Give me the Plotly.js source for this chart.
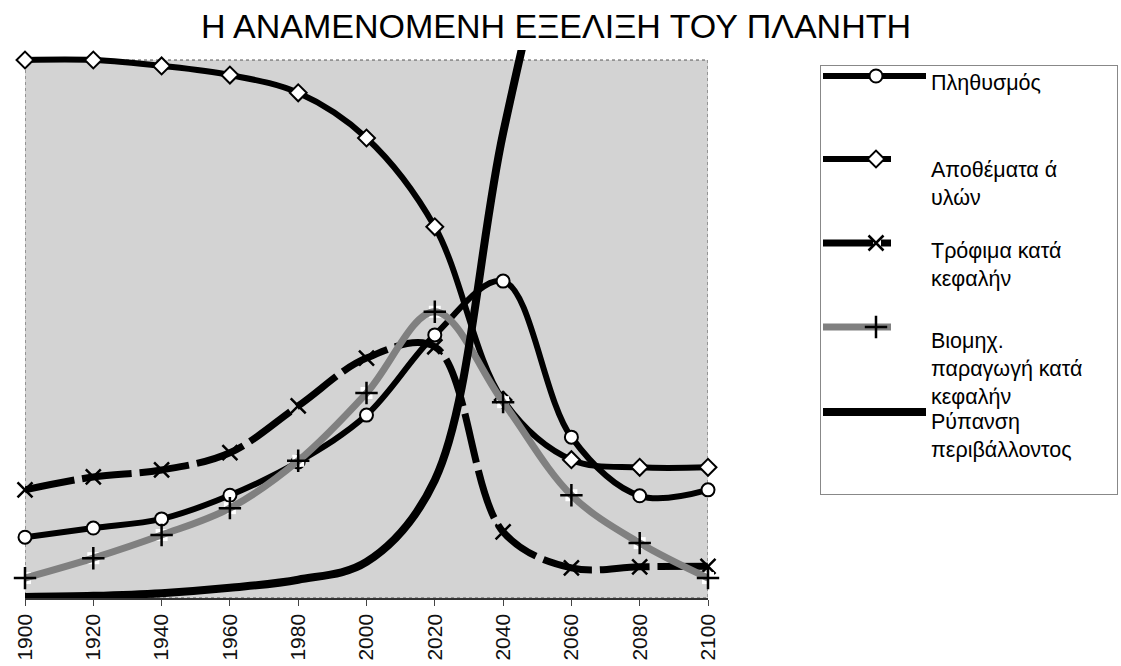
<!DOCTYPE html>
<html>
<head>
<meta charset="utf-8">
<script src="https://cdn.plot.ly/plotly-3.0.1.min.js"></script>
<style>
  body { margin: 0; background: #ffffff; }
  #chart { width: 1121px; height: 666px; }
</style>
</head>
<body>
<div id="chart"></div>
<script>
// ---- data (arbitrary index units, 100 = top of the shaded box) ----
const years = [1900, 1920, 1940, 1960, 1980, 2000, 2020, 2040, 2060, 2080, 2100];
const tickLabels = ['1900', '1920', '1940', '1960', '1980', '2000', '2020', '2040', '2060', '2080', '2100'];
const seriesNames = [
  'Πληθυσμός',
  'Αποθέματα ά<br>υλών',
  'Τρόφιμα κατά<br>κεφαλήν',
  'Βιομηχ.<br>παραγωγή κατά<br>κεφαλήν',
  'Ρύπανση<br>περιβάλλοντος'
];
const population = [11.3, 13.0, 14.7, 19.1, 25.3, 34.0, 48.9, 58.9, 29.9, 19.0, 20.1];
const resources = [100, 100, 98.9, 97.2, 93.9, 85.5, 69.0, 36.8, 25.7, 24.3, 24.3];
const foodPerCapita = [20.1, 22.5, 23.8, 27.0, 35.7, 44.6, 46.7, 12.3, 5.6, 5.8, 5.9];
const industryPerCapita = [3.7, 7.4, 11.7, 16.7, 25.5, 38.1, 53.2, 36.4, 19.1, 10.2, 3.7];
const pollution = [0.2, 0.4, 0.9, 1.9, 3.4, 6.7, 21.9, 86.4, 141, null, null];
const titleText = 'Η ΑΝΑΜΕΝΟΜΕΝΗ ΕΞΕΛΙΞΗ ΤΟΥ ΠΛΑΝΗΤΗ';

// ---- layout geometry ----
const W = 1121, H = 666;
const M = { l: 25, r: 413, t: 50, b: 68 };
const boxTop = 100;                       // top of shaded box in data units
const yMax = boxTop * (H - M.b - M.t) / (H - M.b - 60); // plot area extends a little above the box

const traces = [
  {
    x: years, y: population, name: seriesNames[0],
    mode: 'lines+markers', cliponaxis: false,
    line: { shape: 'spline', color: '#000000', width: 6 },
    marker: { symbol: 'circle', size: 13, color: '#ffffff', line: { color: '#000000', width: 2 } }
  },
  {
    x: years, y: resources, name: seriesNames[1],
    mode: 'lines+markers', cliponaxis: false,
    line: { shape: 'spline', color: '#000000', width: 6 },
    marker: { symbol: 'diamond', size: 13, color: '#ffffff', line: { color: '#000000', width: 2 } }
  },
  {
    x: years, y: foodPerCapita, name: seriesNames[2],
    mode: 'lines+markers', cliponaxis: false,
    line: { shape: 'spline', color: '#000000', width: 7, dash: '50px,8px' },
    marker: { symbol: 'x-thin', size: 15, color: '#000000', line: { color: '#000000', width: 2.5 } }
  },
  {
    x: years, y: industryPerCapita, showlegend: false, hoverinfo: 'skip',
    mode: 'markers', cliponaxis: false,
    marker: { symbol: 'square', size: 12, color: '#ffffff' }
  },
  {
    x: years, y: industryPerCapita, name: seriesNames[3],
    mode: 'lines+markers', cliponaxis: false,
    line: { shape: 'spline', color: '#808080', width: 7 },
    marker: { symbol: 'cross-thin', size: 16, color: '#000000', line: { color: '#000000', width: 2.5 } }
  },
  {
    x: years, y: pollution, name: seriesNames[4],
    mode: 'lines', connectgaps: false,
    line: { shape: 'spline', color: '#000000', width: 8 }
  }
];

const layout = {
  width: W, height: H,
  margin: { l: M.l, r: M.r, t: M.t, b: M.b, autoexpand: false },
  paper_bgcolor: '#ffffff',
  plot_bgcolor: 'rgba(0,0,0,0)',
  showlegend: true,
  title: {
    text: titleText,
    xref: 'container', yref: 'container',
    x: 556 / W, y: 1 - 26 / H, xanchor: 'center', yanchor: 'middle',
    font: { family: 'Liberation Sans, Arial, sans-serif', size: 34, color: '#000000' }
  },
  xaxis: {
    range: [years[0], years[years.length - 1]],
    tickmode: 'array', tickvals: years, ticktext: tickLabels,
    tickangle: -90,
    tickfont: { family: 'Liberation Sans, Arial, sans-serif', size: 21, color: '#111111' },
    ticks: 'outside', ticklen: 6, tickcolor: '#444444', tickwidth: 1,
    showline: true, linecolor: '#333333', linewidth: 1.5,
    showgrid: false, zeroline: false, fixedrange: true
  },
  yaxis: {
    range: [0, yMax], visible: false, showgrid: false, zeroline: false, fixedrange: true
  },
  shapes: [
    {
      type: 'rect', layer: 'below', xref: 'x', yref: 'y',
      x0: years[0], x1: years[years.length - 1], y0: 0, y1: boxTop,
      fillcolor: '#d3d3d3', line: { color: '#555555', width: 1, dash: 'dot' }
    }
  ],
  legend: {
    x: (820 - M.l) / (W - M.l - M.r), y: (H - M.b - 65) / (H - M.b - M.t),
    xanchor: 'left', yanchor: 'top',
    bgcolor: '#ffffff', bordercolor: '#888888', borderwidth: 1,
    font: { family: 'Liberation Sans, Arial, sans-serif', size: 21.5, color: '#000000' },
    itemwidth: 100, valign: 'top',
    traceorder: 'normal', itemclick: false, itemdoubleclick: false
  }
};

// legend placement as in the original (screen px): text first-line centres and sample-line centres
const legendTextY = [83, 170, 251, 341, 422];
const legendSymY = [76, 159, 243, 327, 412];
const legendLineLen = [103, 68, 68, 68, 103];
const legendBox = { w: 297, h: 429 };

Plotly.newPlot('chart', traces, layout, { displayModeBar: false, staticPlot: true }).then(function (gd) {
  const svgTop = gd.getBoundingClientRect().top;
  const legend = gd.querySelector('.legend');
  const scrollbox = legend.querySelector('.scrollbox');
  if (scrollbox) scrollbox.removeAttribute('clip-path');
  const bg = legend.querySelector('rect.bg');
  if (bg) { bg.setAttribute('width', legendBox.w); bg.setAttribute('height', legendBox.h); }
  gd.querySelectorAll('.legend .traces').forEach(function (tr, i) {
    tr.querySelectorAll('.legendlines path').forEach(function (p) { p.setAttribute('d', 'M2,0h' + legendLineLen[i]); });
    tr.querySelectorAll('.legendsymbols path').forEach(function (p) { p.setAttribute('transform', 'translate(55,0)'); });
    const txt = tr.querySelector('text.legendtext');
    const first = txt.querySelector('tspan.line') || txt;
    const r = first.getBoundingClientRect();
    const dy = legendTextY[i] - (r.top - svgTop + r.height / 2);
    const m = /translate\(\s*([-\d.e]+)[ ,]+([-\d.e]+)\s*\)/.exec(tr.getAttribute('transform') || 'translate(0,0)');
    tr.setAttribute('transform', 'translate(' + m[1] + ',' + (parseFloat(m[2]) + dy) + ')');
    const lp = tr.querySelector('.legendlines path');
    if (!lp) return;
    const r2 = lp.getBoundingClientRect();
    const dy2 = legendSymY[i] - (r2.top - svgTop + r2.height / 2);
    tr.querySelectorAll('.legendlines, .legendsymbols').forEach(function (g) {
      g.setAttribute('transform', ((g.getAttribute('transform') || '') + ' translate(0,' + dy2 + ')').trim());
    });
  });
});
</script>
</body>
</html>
